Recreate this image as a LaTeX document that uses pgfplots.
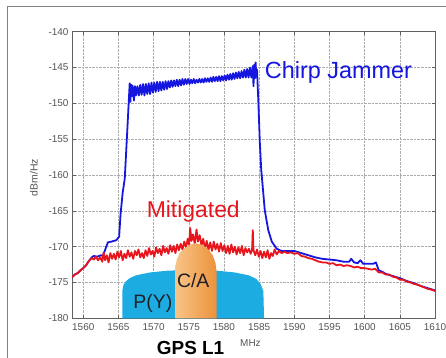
\documentclass[border=0pt]{standalone}
\usepackage{pgfplots}
\pgfplotsset{compat=1.18}
\usepackage{fontspec}
\setmainfont{Liberation Sans}
\definecolor{jam}{RGB}{22,22,225}
\definecolor{mit}{RGB}{232,22,28}
\definecolor{pyc}{RGB}{28,172,226}
\definecolor{caL}{RGB}{248,196,135}
\definecolor{caR}{RGB}{236,146,58}
\definecolor{tickc}{RGB}{85,85,85}
\definecolor{framec}{RGB}{130,130,130}
\definecolor{dark}{RGB}{30,32,40}
\begin{document}
\begin{tikzpicture}
\clip (0bp,0bp) rectangle (446bp,358bp);
\fill[white] (0bp,0bp) rectangle (446bp,358bp);
\draw[framec, line width=0.9bp] (7bp,-10bp) -- (7bp,352bp) -- (460bp,352bp);
\begin{axis}[at={(72bp,39.7bp)}, anchor=south west, scale only axis,
  width=363bp, height=286.6bp,
  xmin=1558.4, xmax=1610, ymin=-180, ymax=-140,
  xtick={1560,1565,...,1610}, ytick={-180,-175,...,-140},
  grid=major, major grid style={densely dotted, color=gray!65, line width=0.5pt},
  axis line style={gray!75!black, line width=0.5pt},
  tick style={gray!75!black, line width=0.5pt}, tick align=inside, major tick length=3.5bp,
  ticklabel style={font=\fontsize{10}{12}\selectfont, text=tickc},
  /pgf/number format/assume math mode=true,
  /pgf/number format/1000 sep={},
  xticklabel style={yshift=-2bp},
  clip=true]
% Chirp jammer spectrum
\addplot[jam, line width=1.8pt, line join=round] coordinates {
(1558.4,-174.3) (1558.8,-173.9) (1559.2,-173.7) (1559.6,-173.3) (1560.0,-173.0)
(1560.4,-172.6) (1560.8,-172.0) (1561.2,-171.5) (1561.5,-171.3) (1562.0,-171.4)
(1562.5,-171.2) (1562.8,-171.3) (1563.2,-170.2) (1563.5,-169.4) (1564.0,-169.3)
(1564.7,-169.1) (1565.1,-168.6) (1565.3,-165.5) (1565.6,-162.5) (1565.9,-160.5)
(1566.3,-153.0) (1566.6,-147.2)
(1566.7,-149.8) (1566.8,-147.4) (1566.9,-149.0) (1567.0,-147.5) (1567.2,-149.6)
(1567.35,-147.6) (1567.5,-148.9) (1567.7,-147.6) (1567.9,-148.9) (1568.1,-147.4)
(1568.3,-148.8) (1568.5,-147.3) (1568.7,-148.9) (1568.9,-147.3) (1569.1,-148.7)
(1569.3,-147.2) (1569.5,-148.7) (1569.7,-147.1) (1569.9,-148.5) (1570.1,-147.1)
(1570.3,-148.4) (1570.5,-147.0) (1570.7,-148.3) (1570.9,-147.0) (1571.1,-148.2)
(1571.3,-147.0) (1571.5,-148.1) (1571.7,-146.9) (1571.9,-148.0) (1572.1,-146.9)
(1572.3,-147.8) (1572.5,-146.8) (1572.7,-147.7) (1572.9,-146.8) (1573.1,-147.6)
(1573.3,-146.7) (1573.5,-147.6) (1573.7,-146.7) (1573.9,-147.5) (1574.1,-146.6)
(1574.3,-147.4) (1574.5,-146.6) (1574.7,-147.3) (1574.9,-146.6) (1575.1,-147.3)
(1575.3,-146.7) (1575.5,-147.2) (1575.7,-146.6) (1575.9,-147.2) (1576.1,-146.7)
(1576.3,-147.1) (1576.5,-146.6) (1576.7,-147.1) (1576.9,-146.6) (1577.1,-147.1)
(1577.3,-146.5) (1577.5,-147.0) (1577.7,-146.5) (1577.9,-147.0) (1578.1,-146.4)
(1578.3,-147.0) (1578.5,-146.3) (1578.7,-146.9) (1578.9,-146.3) (1579.1,-146.9)
(1579.3,-146.2) (1579.5,-146.9) (1579.7,-146.2) (1579.9,-146.8) (1580.1,-146.1)
(1580.3,-146.8) (1580.5,-146.0) (1580.7,-146.7) (1580.9,-145.9) (1581.1,-146.7)
(1581.3,-145.8) (1581.5,-146.6) (1581.7,-145.7) (1581.9,-146.5) (1582.1,-145.6)
(1582.3,-146.5) (1582.5,-145.5) (1582.7,-146.4) (1582.9,-145.3) (1583.1,-146.4)
(1583.3,-145.2) (1583.5,-146.4) (1583.7,-145.0) (1583.9,-146.4) (1584.1,-144.8)
(1584.2,-147.6) (1584.3,-144.6) (1584.4,-146.5) (1584.5,-144.3) (1584.6,-146.3)
(1584.7,-145.3) (1584.9,-150.0) (1585.1,-155.5) (1585.3,-159.3) (1585.5,-161.5)
(1585.8,-164.9) (1586.3,-167.7) (1586.8,-169.3) (1587.5,-170.3) (1588.2,-170.6)
(1589.0,-170.6) (1590.0,-170.6) (1591.0,-170.9) (1592.0,-171.2) (1593.0,-171.5)
(1594.0,-171.7) (1595.0,-171.8) (1596.0,-171.9) (1597.0,-172.1) (1597.8,-172.1)
(1598.1,-171.7) (1598.5,-172.2) (1599.0,-172.3) (1599.4,-171.9) (1599.8,-172.4)
(1600.5,-172.4) (1601.2,-172.4) (1601.6,-172.2) (1602.0,-173.3) (1602.5,-173.5)
(1603.0,-173.8) (1604.0,-174.1) (1605.0,-174.4) (1606.0,-174.8) (1607.0,-175.1)
(1608.0,-175.5) (1609.0,-175.8) (1610.0,-176.1)
};
% Mitigated spectrum
\addplot[mit, line width=1.8pt, line join=round] coordinates {
(1558.4,-174.3) (1558.8,-173.9) (1559.2,-173.7) (1559.6,-173.3) (1560.0,-173.0)
(1560.4,-172.6) (1560.8,-172.0) (1561.2,-171.6) (1561.5,-171.8) (1561.8,-171.4)
(1562.1,-171.9) (1562.4,-171.5) (1562.7,-172.1) (1562.9,-170.8) (1563.1,-171.9)
(1563.35,-171.2) (1563.6,-172.2) (1563.85,-170.9) (1564.1,-171.7) (1564.35,-171.0)
(1564.6,-171.8) (1564.85,-170.7) (1565.1,-171.5) (1565.35,-170.6) (1565.6,-171.9)
(1565.85,-171.0) (1566.1,-171.6) (1566.35,-170.5) (1566.6,-171.4) (1566.85,-170.8)
(1567.1,-171.7) (1567.35,-170.6) (1567.6,-171.2) (1567.85,-170.4) (1568.1,-171.5)
(1568.35,-170.9) (1568.6,-171.6) (1568.85,-170.5) (1569.1,-171.3) (1569.35,-170.2)
(1569.6,-171.1) (1569.85,-170.6) (1570.1,-171.4) (1570.35,-170.1) (1570.6,-170.9)
(1570.85,-170.3) (1571.1,-171.2) (1571.35,-169.9) (1571.6,-170.8) (1571.85,-170.2)
(1572.1,-171.0) (1572.35,-169.8) (1572.6,-170.7) (1572.85,-169.9) (1573.1,-170.9)
(1573.35,-169.7) (1573.6,-170.5) (1573.85,-169.6) (1574.1,-170.4) (1574.35,-169.3)
(1574.6,-170.1) (1574.85,-168.9) (1575.05,-169.8) (1575.2,-167.4) (1575.4,-169.2)
(1575.6,-168.3) (1575.85,-169.6) (1576.1,-167.6) (1576.3,-169.3) (1576.55,-168.4)
(1576.8,-169.8) (1577.05,-168.9) (1577.3,-170.3) (1577.55,-169.2) (1577.8,-170.5)
(1578.05,-169.4) (1578.3,-170.6) (1578.55,-169.3) (1578.8,-170.4) (1579.05,-169.6)
(1579.3,-170.7) (1579.55,-169.5) (1579.8,-170.6) (1580.05,-169.8) (1580.3,-170.9)
(1580.55,-169.9) (1580.8,-171.0) (1581.05,-169.7) (1581.3,-170.8) (1581.55,-170.0)
(1581.8,-171.1) (1582.05,-170.1) (1582.3,-170.9) (1582.55,-169.9) (1582.8,-171.2)
(1583.05,-170.2) (1583.3,-170.8) (1583.55,-170.3) (1583.8,-171.0) (1584.0,-170.4)
(1584.1,-167.7) (1584.2,-170.5) (1584.45,-171.2) (1584.7,-170.4) (1584.95,-171.4)
(1585.2,-170.6) (1585.45,-171.6) (1585.7,-170.7) (1585.95,-171.5) (1586.2,-170.5)
(1586.45,-171.7) (1586.7,-170.9) (1586.95,-171.3) (1587.2,-170.4) (1587.5,-171.1)
(1587.8,-170.6) (1588.2,-170.9) (1588.6,-170.7) (1589.0,-170.9) (1589.5,-170.8)
(1590.0,-171.0) (1590.5,-170.9) (1591.0,-171.3) (1591.5,-171.4) (1592.0,-171.6)
(1592.5,-171.7) (1593.0,-171.9) (1593.5,-172.1) (1594.0,-172.2) (1594.5,-172.2)
(1595.0,-172.4) (1595.5,-172.3) (1596.0,-172.6) (1596.5,-172.5) (1597.0,-172.7)
(1597.5,-172.6) (1598.0,-172.7) (1598.5,-172.9) (1599.0,-172.8) (1599.5,-173.0)
(1600.0,-173.0) (1600.5,-173.1) (1601.0,-173.2) (1601.5,-173.1) (1602.0,-173.6)
(1602.5,-173.6) (1603.0,-173.9) (1603.5,-173.9) (1604.0,-174.2) (1604.5,-174.3)
(1605.0,-174.6) (1605.5,-174.6) (1606.0,-174.9) (1606.5,-175.0) (1607.0,-175.2)
(1607.5,-175.3) (1608.0,-175.5) (1608.5,-175.7) (1609.0,-175.9) (1609.5,-176.0)
(1610.0,-176.2)
};
% P(Y) spectrum shape
\addplot[draw=none, fill=pyc] coordinates {
(1565.55,-180) (1565.55,-176.2) (1565.7,-175.4) (1566.0,-174.9) (1566.6,-174.4)
(1567.5,-174.0) (1569.5,-173.6) (1572,-173.35) (1575.5,-173.25) (1579,-173.35)
(1581.5,-173.6) (1583.5,-174.0) (1584.6,-174.5) (1585.2,-175.2) (1585.6,-176.2)
(1585.7,-180)
};
% C/A spectrum shape
\addplot[draw=none, left color=caL, right color=caR] coordinates {
(1573.1,-180) (1573.1,-172.8) (1573.3,-171.8) (1573.7,-170.9) (1574.3,-170.3)
(1575.0,-169.8) (1576.0,-169.5) (1577.0,-169.8) (1577.8,-170.4) (1578.4,-171.2)
(1578.8,-172.3) (1578.95,-173.5) (1578.95,-180)
};
\node[anchor=base west, inner sep=0, text=jam, font=\fontsize{23.5}{28}\selectfont] at (axis cs:1585.8,-146.6) {Chirp Jammer};
\node[anchor=base west, inner sep=0, text=mit, font=\fontsize{23}{28}\selectfont] at (axis cs:1569.0,-165.9) {Mitigated};
\node[anchor=base west, inner sep=0, text=dark, font=\fontsize{19.5}{24}\selectfont] at (axis cs:1573.3,-175.7) {C/A};
\node[anchor=base west, inner sep=0, text=dark, font=\fontsize{19.5}{24}\selectfont] at (axis cs:1567.1,-178.6) {P(Y)};
\end{axis}
\node[rotate=90, text=tickc, font=\fontsize{10.5}{12}\selectfont, inner sep=0] at (34bp,180.5bp) {dBm/Hz};
\node[anchor=base west, inner sep=0, text=tickc, font=\fontsize{10}{12}\selectfont] at (240bp,12bp) {MHz};
\node[anchor=base west, inner sep=0, text=black, font=\bfseries\fontsize{19}{23}\selectfont] at (156.7bp,3.2bp) {GPS L1};
\end{tikzpicture}
\end{document}
